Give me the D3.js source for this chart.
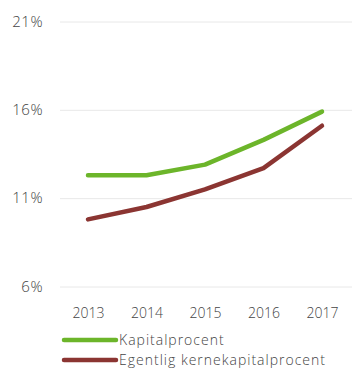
<!DOCTYPE html>
<html>
<head>
<meta charset="utf-8">
<script src="https://cdn.jsdelivr.net/npm/d3@7"></script>
<style>
  html, body { margin: 0; padding: 0; background: #fff; }
  svg { display: block; }
  text { font-family: "Open Sans", "Noto Sans", sans-serif; font-weight: 300; fill: #444; }
</style>
</head>
<body>
<svg id="chart" width="352" height="373"></svg>
<script>
// Capital ratios per year
const years = ["2013", "2014", "2015", "2016", "2017"];
const kapitalprocent = [12.3, 12.3, 12.9, 14.3, 15.9];
const kernekapitalprocent = [9.8, 10.5, 11.5, 12.7, 15.1];
const yTicks = [6, 11, 16, 21];
const seriesNames = ["Kapitalprocent", "Egentlig kernekapitalprocent"];
const seriesColors = ["#6cb52a", "#8b3532"];

const svg = d3.select("#chart");

const x = d3.scalePoint().domain(years).range([88, 322]);
const y = d3.scaleLinear().domain([6, 21]).range([286.5, 21.5]);

// Horizontal gridlines with percent labels
const yAxis = d3.axisLeft(y)
  .tickValues(yTicks)
  .tickSize(-292)
  .tickPadding(17)
  .tickFormat(d => d + "%");

svg.append("g")
  .attr("transform", "translate(60,0)")
  .call(yAxis)
  .call(g => g.select(".domain").remove())
  .call(g => g.selectAll(".tick line").attr("stroke", "#e8e8e8").attr("stroke-width", 1))
  .call(g => g.selectAll(".tick text")
    .attr("font-size", 15)
    .attr("letter-spacing", 0.5)
    .attr("fill", "#555")
    .attr("font-family", "'Open Sans', sans-serif")
    .attr("font-weight", 300));

// Year labels
const xAxis = d3.axisBottom(x).tickSize(0).tickPadding(0);
svg.append("g")
  .attr("transform", "translate(0,308)")
  .call(xAxis)
  .call(g => g.select(".domain").remove())
  .call(g => g.selectAll(".tick text")
    .attr("font-size", 14)
    .attr("fill", "#333")
    .attr("font-family", "'Open Sans', sans-serif")
    .attr("font-weight", 300));

// Series lines
const line = d3.line()
  .x((d, i) => x(years[i]))
  .y(d => y(d));

[kapitalprocent, kernekapitalprocent].forEach((vals, k) => {
  svg.append("path")
    .datum(vals)
    .attr("fill", "none")
    .attr("stroke", seriesColors[k])
    .attr("stroke-width", 4.5)
    .attr("stroke-linecap", "round")
    .attr("stroke-linejoin", "round")
    .attr("d", line);
});

// Legend
const legend = svg.append("g").attr("transform", "translate(64,340)");
seriesNames.forEach((name, k) => {
  const row = legend.append("g").attr("transform", `translate(0,${k * 20})`);
  row.append("line")
    .attr("x1", 0).attr("x2", 52)
    .attr("y1", 0).attr("y2", 0)
    .attr("stroke", seriesColors[k])
    .attr("stroke-width", 4.5)
    .attr("stroke-linecap", "round");
  row.append("text")
    .attr("x", 55)
    .attr("y", 5)
    .attr("font-size", 14)
    .attr("letter-spacing", 1)
    .attr("fill", "#333")
    .text(name);
});
</script>
</body>
</html>
